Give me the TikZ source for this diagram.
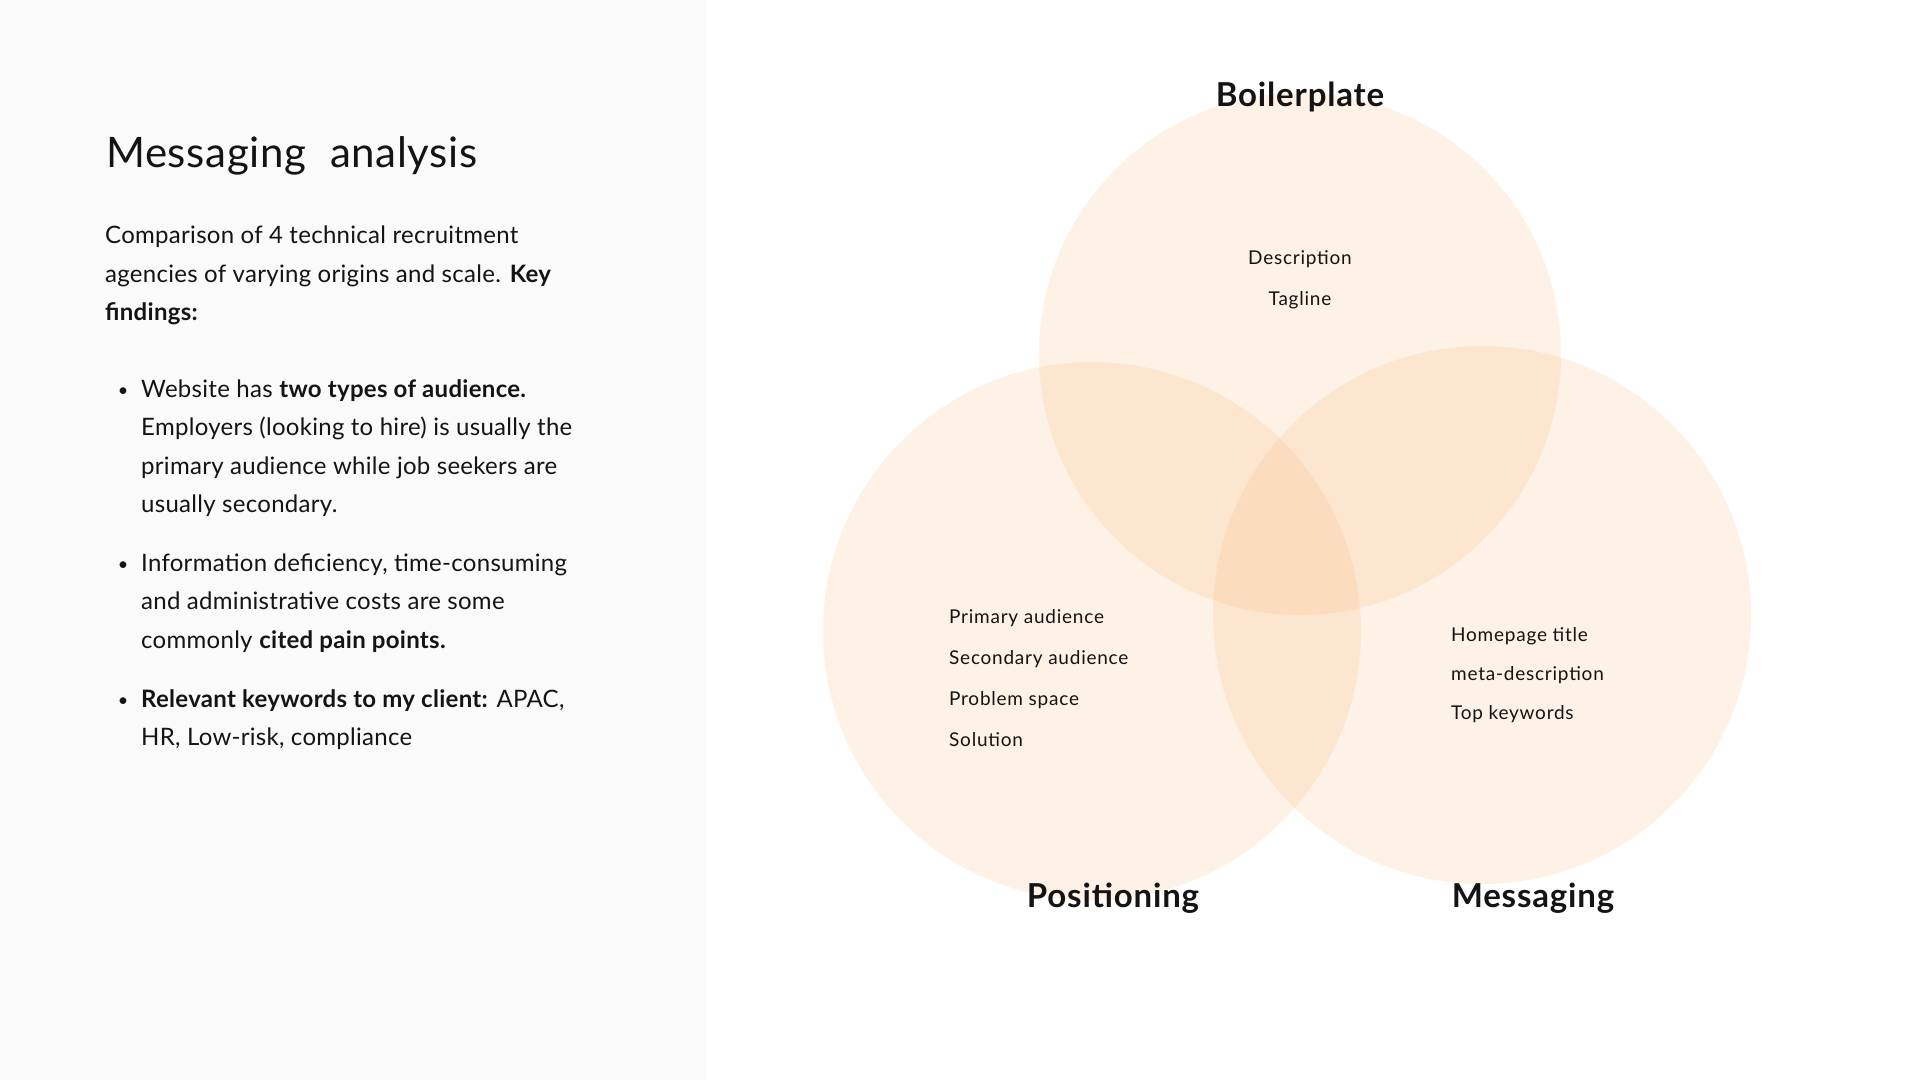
\documentclass[tikz,border=0pt]{standalone}
\usepackage{fontspec}
\setmainfont{Lato}
\newfontfamily\bodyfont[LetterSpace=1.2]{Lato}
\newfontfamily\titlefont[LetterSpace=1.5]{Lato}
\newfontfamily\itemfont[LetterSpace=4]{Lato}
\newfontfamily\headfont[LetterSpace=2.5]{Lato}
\definecolor{ink}{HTML}{141414}
\definecolor{panel}{HTML}{FAFAFA}
\definecolor{peach}{RGB}{250,168,88}
\begin{document}
\begin{tikzpicture}[x=1pt,y=-1pt,
  body/.style={anchor=base west,inner sep=0,text=ink,font=\bodyfont\fontsize{24}{28}\selectfont},
  dot/.style={anchor=base,inner sep=0,text=ink,font=\fontsize{18}{22}\selectfont},
  item/.style={anchor=base west,inner sep=0,text=ink,font=\itemfont\fontsize{19}{22}\selectfont},
  itemc/.style={anchor=base,inner sep=0,text=ink,font=\itemfont\fontsize{19}{22}\selectfont},
  head/.style={anchor=base,inner sep=0,text=ink,font=\headfont\fontsize{33}{38}\selectfont\bfseries},
  blob/.style={fill=peach,fill opacity=0.15}]
\useasboundingbox (0,0) rectangle (1920,1080);
\fill[white] (0,0) rectangle (1920,1080);
\fill[panel] (0,0) rectangle (706,1080);
% title
\node[anchor=base west,inner sep=0,text=ink,font=\titlefont\fontsize{42}{48}\selectfont] (title) at (106,167) {Messaging\hspace{0.3em} analysis};
% intro
\node[body] (p1) at (105,243) {Comparison of 4 technical recruitment};
\node[body] (p2) at (105,282) {agencies of varying origins and scale. \textbf{Key}};
\node[body] (p3) at (105,320) {\textbf{findings:}};
% bullets
\node[dot] (b1) at (123,396) {\textbullet};
\node[body] (b1a) at (141,397) {Website has \textbf{two types of audience.}};
\node[body] (b1b) at (141,435) {Employers (looking to hire) is usually the};
\node[body] (b1c) at (141,474) {primary audience while job seekers are};
\node[body] (b1d) at (141,512) {usually secondary.};
\node[dot] (b2) at (123,570) {\textbullet};
\node[body] (b2a) at (141,571) {Information deficiency, time-consuming};
\node[body] (b2b) at (141,609) {and administrative costs are some};
\node[body] (b2c) at (141,648) {commonly \textbf{cited pain points.}};
\node[dot] (b3) at (123,706) {\textbullet};
\node[body] (b3a) at (141,707) {\textbf{Relevant keywords to my client:} APAC,};
\node[body] (b3b) at (141,745) {HR, Low-risk, compliance};
% circles
\fill[blob] (1300,354) circle (261);
\fill[blob] (1092,631) circle (269);
\fill[blob] (1482,615) circle (269);
% headings
\node[head] (hb) at (1300,106) {Boilerplate};
\node[head] (hp) at (1113,907) {Positioning};
\node[head] (hm) at (1533,907) {Messaging};
% boilerplate items
\node[itemc] (d1) at (1300,264) {Description};
\node[itemc] (d2) at (1300,305) {Tagline};
% positioning items
\node[item] (q1) at (949,623) {Primary audience};
\node[item] (q2) at (949,664) {Secondary audience};
\node[item] (q3) at (949,705) {Problem space};
\node[item] (q4) at (949,746) {Solution};
% messaging items
\node[item] (m1) at (1451,641) {Homepage title};
\node[item] (m2) at (1451,680) {meta-description};
\node[item] (m3) at (1451,719) {Top keywords};
\end{tikzpicture}
\end{document}
